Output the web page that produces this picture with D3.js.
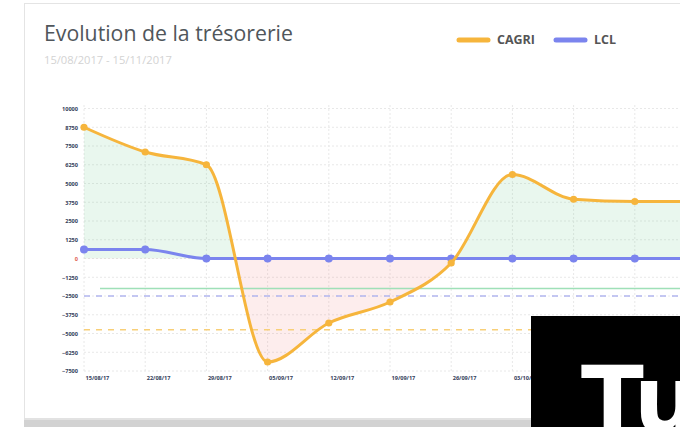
<!DOCTYPE html>
<html><head><meta charset="utf-8">
<script src="https://cdn.jsdelivr.net/npm/d3@7"></script>
<style>
html,body{margin:0;padding:0;background:#fff;overflow:hidden}
svg{display:block}
</style></head>
<body>
<svg id="c" width="680" height="427"></svg>
<script>
// ---- data ----
const dates = ["15/08/17","22/08/17","29/08/17","05/09/17","12/09/17","19/09/17","26/09/17","03/10/17","10/10/17","17/10/17","24/10/17"];
const cagri = [8750, 7100, 6250, -6900, -4300, -2900, -300, 5600, 3950, 3800, 3800];
const lcl   = [600, 600, 0, 0, 0, 0, 0, 0, 0, 0, 0];
const yTicks = [10000, 8750, 7500, 6250, 5000, 3750, 2500, 1250, 0, -1250, -2500, -3750, -5000, -6250, -7500];
const thresholdGreen = -2000;
const thresholdLcl = -2500;
const thresholdCagri = -4750;
const seriesNames = ["CAGRI", "LCL"];
const title = "Evolution de la trésorerie";
const subtitle = "15/08/2017 - 15/11/2017";

const ORANGE = "#f6b53c", PURPLE = "#7b84ee";
const svg = d3.select("#c");
const BOX_X = 531;

// card
svg.append("rect").attr("x",24.5).attr("y",3.5).attr("width",720).attr("height",415)
  .attr("fill","#fff").attr("stroke","#e4e4e4");
svg.append("rect").attr("x",24).attr("y",418).attr("width",656).attr("height",9).attr("fill","#d2d2d2");
svg.append("rect").attr("x",24).attr("y",418).attr("width",656).attr("height",2).attr("fill","#e2e2e2");

function fit(sel, w){ const l = sel.node().getComputedTextLength(); const fs = parseFloat(sel.attr("font-size")); sel.attr("font-size", fs*w/l); }

const t = svg.append("text").attr("x",44).attr("y",41).attr("font-family","'Open Sans', sans-serif")
  .attr("font-size",19).attr("fill","#50565b").text(title);
fit(t, 249);
const st = svg.append("text").attr("x",44).attr("y",64).attr("font-family","'Open Sans', sans-serif")
  .attr("font-size",10).attr("fill","#d3d3d3").text(subtitle);
fit(st, 128);

// legend
const legX = [457, 554], legW = [38, 22];
seriesNames.forEach((n,i)=>{
  svg.append("line").attr("x1",legX[i]+2).attr("x2",legX[i]+31).attr("y1",40).attr("y2",40)
    .attr("stroke", i===0?ORANGE:PURPLE).attr("stroke-width",5).attr("stroke-linecap","round");
  const lt = svg.append("text").attr("x",legX[i]+40).attr("y",44).attr("font-family","'Open Sans', sans-serif")
    .attr("font-weight",700).attr("font-size",10).attr("fill","#555").text(n);
  fit(lt, legW[i]);
});

// scales
const step = 61.2;
const x = d3.scalePoint().domain(dates).range([84, 84 + step*(dates.length-1)]);
const y = d3.scaleLinear().domain([-7500, 10000]).range([371, 108.5]);
const xr = x.range()[1];

const g = svg.append("g");
// grid
g.selectAll(".hg").data(yTicks).enter().append("line")
  .attr("x1",84).attr("x2",xr).attr("y1",d=>y(d)).attr("y2",d=>y(d))
  .attr("stroke","#e8e8e8").attr("stroke-width",1).attr("stroke-dasharray","2,2");
g.selectAll(".vg").data(dates).enter().append("line")
  .attr("x1",d=>x(d)).attr("x2",d=>x(d)).attr("y1",105).attr("y2",373)
  .attr("stroke","#e8e8e8").attr("stroke-width",1).attr("stroke-dasharray","2,2");

// y axis
const ya = svg.append("g").attr("transform","translate(78,0)")
  .call(d3.axisLeft(y).tickValues(yTicks).tickSize(0).tickPadding(0).tickFormat(d3.format("d")));
ya.select(".domain").remove();
ya.selectAll("text").attr("font-family","'Open Sans', sans-serif").attr("font-weight",700)
  .attr("font-size",5.6).attr("fill",d=>d===0?"#e0604f":"#34405a");

// x axis (labels hidden by the overlay box are not drawn)
const defs = svg.append("defs");
defs.append("clipPath").attr("id","vis").append("rect").attr("x",0).attr("y",0).attr("width",BOX_X).attr("height",427);
const xa = svg.append("g").attr("transform","translate(0,376)").attr("clip-path","url(#vis)")
  .call(d3.axisBottom(x).tickValues(dates.filter(d=>x(d) < BOX_X)).tickSize(0).tickPadding(0));
xa.select(".domain").remove();
xa.selectAll("text").attr("font-family","'Open Sans', sans-serif").attr("font-weight",700)
  .attr("font-size",5.6).attr("fill","#34405a").attr("text-anchor","start").attr("dx",1);

// fills
defs.append("clipPath").attr("id","above").append("rect").attr("x",0).attr("y",0).attr("width",2000).attr("height",y(0));
defs.append("clipPath").attr("id","below").append("rect").attr("x",0).attr("y",y(0)).attr("width",2000).attr("height",500);
const curve = d3.curveMonotoneX;
const area = d3.area().x((d,i)=>x(dates[i])).y0(y(0)).y1(d=>y(d)).curve(curve);
svg.append("path").datum(cagri).attr("d",area).attr("fill","rgba(120,205,150,0.16)").attr("clip-path","url(#above)");
svg.append("path").datum(cagri).attr("d",area).attr("fill","rgba(240,130,130,0.14)").attr("clip-path","url(#below)");

// thresholds
svg.append("line").attr("x1",100).attr("x2",xr).attr("y1",y(thresholdGreen)).attr("y2",y(thresholdGreen))
  .attr("stroke","#9fe0b8").attr("stroke-width",1.3);
svg.append("line").attr("x1",84).attr("x2",xr).attr("y1",y(thresholdLcl)).attr("y2",y(thresholdLcl))
  .attr("stroke","#b3b6f0").attr("stroke-width",1.3).attr("stroke-dasharray","6,6");
svg.append("line").attr("x1",84).attr("x2",xr).attr("y1",y(thresholdCagri)).attr("y2",y(thresholdCagri))
  .attr("stroke","#f8cf78").attr("stroke-width",1.3).attr("stroke-dasharray","6,6");

// lines
const line = d3.line().x((d,i)=>x(dates[i])).y(d=>y(d)).curve(curve);
svg.append("path").datum(lcl).attr("d",line).attr("fill","none").attr("stroke",PURPLE).attr("stroke-width",3);
svg.selectAll(".pl").data(lcl).enter().append("circle").attr("cx",(d,i)=>x(dates[i])).attr("cy",d=>y(d)).attr("r",4).attr("fill",PURPLE);
svg.append("path").datum(cagri).attr("d",line).attr("fill","none").attr("stroke",ORANGE).attr("stroke-width",3);
svg.selectAll(".pc").data(cagri).enter().append("circle").attr("cx",(d,i)=>x(dates[i])).attr("cy",d=>y(d)).attr("r",3.6).attr("fill",ORANGE);

// overlay box
svg.append("rect").attr("x",BOX_X).attr("y",316).attr("width",160).attr("height",120).attr("fill","#000");
svg.append("text").attr("x",581).attr("y",432).attr("font-family","'DejaVu Sans', sans-serif").attr("font-weight",700)
  .attr("font-size",92).attr("fill","#fff").text("Tu");
</script>
</body></html>
